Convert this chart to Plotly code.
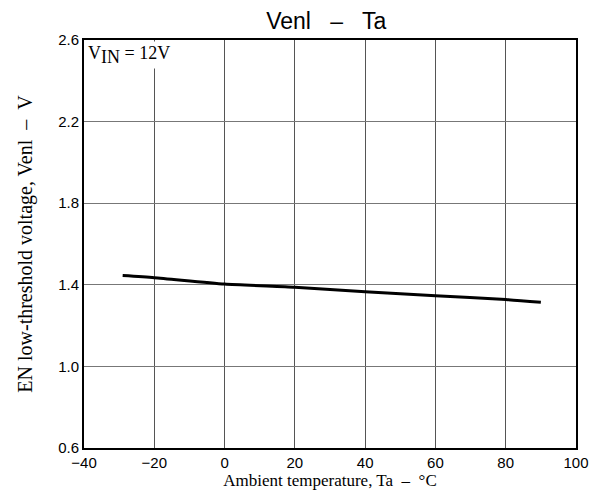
import plotly.graph_objects as go

ta = [-29, -20, 0, 20, 40, 60, 80, 90]
venl = [1.445, 1.435, 1.404, 1.388, 1.366, 1.346, 1.328, 1.314]

x_ticks = [-40, -20, 0, 20, 40, 60, 80, 100]
x_ticktext = ["\u221240", "\u221220", "0", "20", "40", "60", "80", "100"]
y_ticks = [0.6, 1.0, 1.4, 1.8, 2.2, 2.6]
y_ticktext = ["0.6", "1.0", "1.4", "1.8", "2.2", "2.6"]

SERIF = "Liberation Serif, Times New Roman, serif"
SANS = "Liberation Sans, Arial, sans-serif"
NB = "\u00a0"

fig = go.Figure()
fig.add_trace(go.Scatter(x=ta, y=venl, mode="lines",
                         line=dict(color="black", width=3, shape="spline", smoothing=0.6),
                         showlegend=False, hoverinfo="skip"))

fig.update_layout(
    width=595, height=489,
    margin=dict(l=76, r=27, t=32, b=49),
    paper_bgcolor="white", plot_bgcolor="white",
    title=dict(text="Venl" + NB * 3 + "\u2013" + NB * 3 + "Ta", x=0.535, xanchor="center",
               xref="container", y=0.99, yanchor="top",
               font=dict(family=SANS, size=23, color="black")),
    xaxis=dict(range=[-40, 100], tickvals=x_ticks, ticktext=x_ticktext,
               showgrid=True, gridcolor="#555555", gridwidth=1,
               showline=True, linecolor="black", linewidth=2, mirror=True,
               ticks="", tickfont=dict(family=SANS, size=15, color="black"),
               zeroline=False,
               title=dict(text="Ambient temperature, Ta" + NB * 2 + "\u2013" + NB * 2 + "\u00b0C",
                          standoff=2,
                          font=dict(family=SERIF, size=17, color="black"))),
    yaxis=dict(range=[0.6, 2.6], tickvals=y_ticks, ticktext=y_ticktext,
               showgrid=True, gridcolor="#777777", gridwidth=1,
               showline=True, linecolor="black", linewidth=2, mirror=True,
               ticks="", tickfont=dict(family=SANS, size=15, color="black"),
               zeroline=False,
               title=dict(text="EN low-threshold voltage, Venl" + NB * 2 + "\u2013" + NB * 2 + "V",
                          standoff=20,
                          font=dict(family=SERIF, size=20, color="black"))),
    annotations=[dict(x=0.004, y=0.998, xref="paper", yref="paper", xanchor="left", yanchor="top",
                      text="V<sub><span style='font-size:18px'>IN</span></sub> = 12V",
                      showarrow=False, bgcolor="white",
                      font=dict(family=SERIF, size=18, color="black"))],
)

fig.write_html("out.html")
